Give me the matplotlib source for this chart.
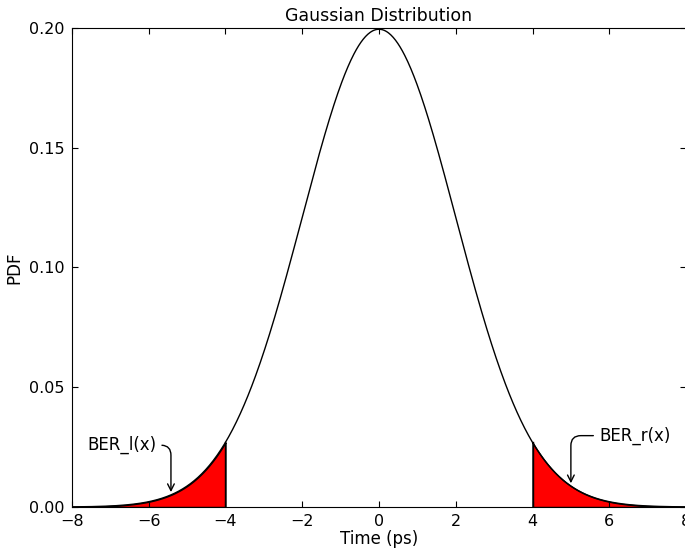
import numpy as np
import matplotlib
matplotlib.use("Agg")
import matplotlib.pyplot as plt

# Data
mu = 0.0
sigma = 2.0
x_range = (-8, 8)
left_tail = (-8, -4)
right_tail = (4, 8)
xticks = [-8, -6, -4, -2, 0, 2, 4, 6, 8]
yticks = [0.00, 0.05, 0.10, 0.15, 0.20]
ann_left_x = -5.42
ann_right_x = 5.0

def pdf(v):
    return np.exp(-(v - mu) ** 2 / (2 * sigma ** 2)) / (sigma * np.sqrt(2 * np.pi))

fig = plt.figure(figsize=(6.85, 5.54), dpi=100)
ax = fig.add_axes([0.105, 0.0848, 0.8965, 0.8647])

x = np.linspace(x_range[0], x_range[1], 800)
ax.plot(x, pdf(x), color="black", lw=1.0)

xl = np.linspace(left_tail[0], left_tail[1], 200)
ax.fill_between(xl, 0, pdf(xl), facecolor="red", edgecolor="black", lw=1.0)
ax.plot([left_tail[1], left_tail[1]], [0, pdf(left_tail[1])], color="black", lw=1.0)
xr = np.linspace(right_tail[0], right_tail[1], 200)
ax.fill_between(xr, 0, pdf(xr), facecolor="red", edgecolor="black", lw=1.0)
ax.plot([right_tail[0], right_tail[0]], [0, pdf(right_tail[0])], color="black", lw=1.0)

ax.set_xlim(*x_range)
ax.set_ylim(0, 0.20)
ax.set_xticks(xticks)
ax.set_yticks(yticks)
ax.set_yticklabels([f"{t:.2f}" for t in yticks])
ax.set_xticklabels([str(t).replace("-", "\u2212") for t in xticks])
ax.tick_params(direction="in", top=True, right=True, labelsize=11.5, length=4, pad=5)

ax.set_title("Gaussian Distribution", fontsize=12.5, pad=5)
ax.set_xlabel("Time (ps)", fontsize=12, labelpad=1)
ax.set_ylabel("PDF", fontsize=12)

ax.annotate("BER_l(x)", xy=(ann_left_x, pdf(ann_left_x)), xytext=(-7.6, 0.0258),
            fontsize=12, va="center",
            arrowprops=dict(arrowstyle="->", color="black", lw=1.0,
                            connectionstyle="angle,angleA=0,angleB=90,rad=10"))
ax.annotate("BER_r(x)", xy=(ann_right_x, pdf(ann_right_x)), xytext=(5.73, 0.0298),
            fontsize=12, va="center",
            arrowprops=dict(arrowstyle="->", color="black", lw=1.0,
                            connectionstyle="angle,angleA=0,angleB=90,rad=10"))

fig.savefig("out.png", dpi=100)
